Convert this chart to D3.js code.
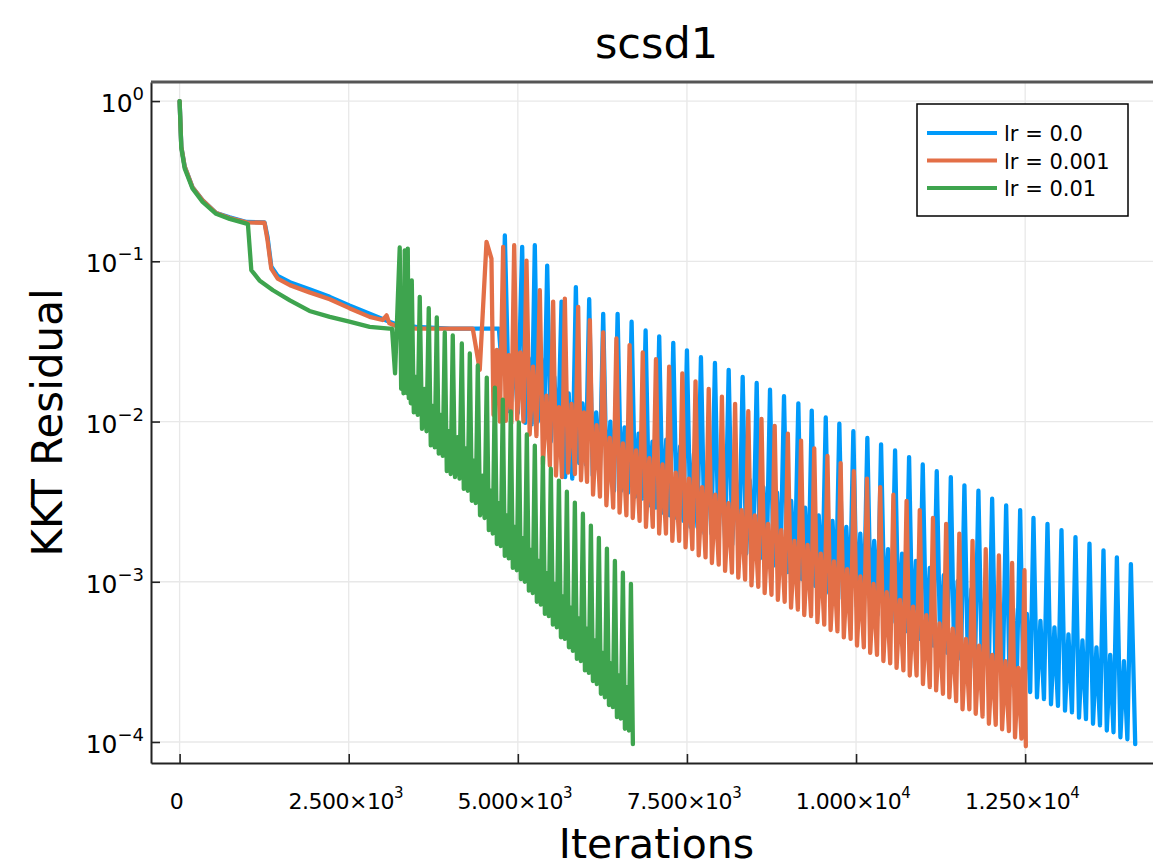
<!DOCTYPE html>
<html>
<head>
<meta charset="utf-8">
<script src="https://cdn.jsdelivr.net/npm/d3@7"></script>
<style>
  body { margin: 0; background: #fff; }
  text { font-family: "DejaVu Sans", sans-serif; fill: #000; }
</style>
</head>
<body>
<svg id="chart"></svg>
<script>
// tick values and labels
var xTicks = [0, 2500, 5000, 7500, 10000, 12500];
var xTickMantissa = ["0", "2.500", "5.000", "7.500", "1.000", "1.250"];
var xTickExponent = [null, "3", "3", "3", "4", "4"];
var yTicks = [1, 0.1, 0.01, 0.001, 0.0001];
var yTickExponent = ["0", "\u22121", "\u22122", "\u22123", "\u22124"];

var seriesNames = ["lr = 0.0", "lr = 0.001", "lr = 0.01"];
var seriesColors = ["#009AFA", "#E36F47", "#3EA44E"];

// [iteration, KKT residual]
var lr0 = [[0,1.0],[25,0.52],[75,0.39],[190,0.29],[340,0.24],[540,0.20],[740,0.188],[990,0.176],[1255,0.175],[1300,0.142],[1355,0.093],[1450,0.081],[1630,0.074],[1920,0.067],[2220,0.060],[2510,0.053],[2810,0.047],[3100,0.042],[3230,0.040],[3500,0.039],[4000,0.038],[4720,0.038],[4770,0.020],
[4808,0.145],[4870,0.0116],[4936,0.029],[5000,0.0113],
[5064,0.123],[5110,0.0098],[5157,0.025],[5205,0.0096],
[5251,0.126],[5295,0.0100],[5342,0.025],[5390,0.0098],
[5434,0.094],[5487,0.0075],[5540,0.019],[5593,0.0073],
[5646,0.056],[5699,0.0045],[5752,0.015],[5805,0.0044],
[5858,0.069],[5907,0.0055],[5956,0.013],[6006,0.0054],
[6055,0.058],[6107,0.0046],[6158,0.0114],[6210,0.0045],
[6262,0.047],[6315,0.0038],[6368,0.0100],[6422,0.0037],
[6475,0.047],[6527,0.0037],[6578,0.0092],[6630,0.0036],
[6682,0.042],[6734,0.0034],[6785,0.0084],[6837,0.0033],
[6889,0.037],[6939,0.0030],[6990,0.0075],[7040,0.0029],
[7090,0.034],[7142,0.0027],[7194,0.0077],[7246,0.0026],
[7298,0.031],[7349,0.0025],[7399,0.0070],[7449,0.0024],
[7500,0.0278],[7552,0.0022],[7604,0.0063],[7655,0.0022],
[7707,0.0252],[7759,0.0020],[7810,0.0057],[7862,0.0020],
[7914,0.0232],[7965,0.0019],[8015,0.0052],[8066,0.0018],
[8117,0.021],[8169,0.0017],[8220,0.0047],[8272,0.0016],
[8324,0.019],[8376,0.0015],[8428,0.0043],[8479,0.0015],
[8531,0.0174],[8580,0.0014],[8630,0.0039],[8679,0.00135],
[8728,0.0158],[8780,0.00126],[8832,0.0036],[8883,0.00123],
[8935,0.0144],[8988,0.00115],[9041,0.0032],[9094,0.00112],
[9147,0.013],[9196,0.00104],[9246,0.0029],[9296,0.00101],
[9345,0.0117],[9397,0.00094],[9448,0.0026],[9500,0.00091],
[9552,0.0106],[9602,0.00085],[9652,0.0024],[9703,0.00083],
[9753,0.0097],[9805,0.00078],[9856,0.0022],[9908,0.00076],
[9960,0.0087],[10012,0.00070],[10063,0.0020],[10115,0.00068],
[10167,0.0079],[10218,0.00063],[10268,0.0018],[10319,0.00062],
[10370,0.0072],[10422,0.00058],[10473,0.0016],[10525,0.00056],
[10577,0.0066],[10629,0.00050],[10680,0.0015],[10732,0.00049],
[10784,0.0060],[10834,0.00045],[10885,0.00135],[10935,0.00044],
[10986,0.0054],[11038,0.00041],[11090,0.00122],[11141,0.00040],
[11193,0.0049],[11245,0.00037],[11297,0.0011],[11349,0.00036],
[11401,0.0045],[11451,0.00034],[11502,0.00101],[11552,0.00033],
[11602,0.0040],[11654,0.00030],[11706,0.0009],[11757,0.00029],
[11809,0.0037],[11860,0.00028],[11910,0.00083],[11961,0.00027],
[12012,0.0033],[12064,0.00025],[12116,0.00074],[12167,0.00024],
[12219,0.0030],[12271,0.000225],[12322,0.00068],[12374,0.00022],
[12426,0.0028],[12475,0.00021],[12525,0.00063],[12574,0.000205],
[12623,0.0025],[12675,0.00019],[12726,0.00057],[12778,0.000185],
[12830,0.0023],[12882,0.000172],[12933,0.00052],[12985,0.000168],
[13037,0.0021],[13089,0.000157],[13140,0.00047],[13192,0.000153],
[13244,0.0019],[13296,0.000142],[13347,0.00043],[13399,0.000139],
[13451,0.00173],[13503,0.00013],[13554,0.00039],[13606,0.000127],
[13658,0.00157],[13707,0.000118],[13757,0.00035],[13806,0.000115],
[13856,0.00142],[13908,0.000107],[13960,0.00032],[14011,0.000104],
[14063,0.00129],[14127,0.000097]];

var lr001 = [[0,1.0],[25,0.52],[75,0.39],[190,0.29],[340,0.24],[540,0.20],[740,0.186],[990,0.175],[1255,0.174],[1300,0.135],[1355,0.090],[1450,0.078],[1630,0.071],[1920,0.064],[2220,0.058],[2510,0.051],[2810,0.045],[3000,0.043],[3060,0.046],[3100,0.041],[3230,0.039],[3500,0.038],[4000,0.038],[4334,0.038],[4437,0.021],
[4537,0.132],[4610,0.104],[4640,0.011],[4690,0.028],[4735,0.010],
[4783,0.123],[4822,0.0101],[4865,0.026],[4905,0.0098],
[4946,0.126],[4990,0.0103],[5037,0.027],[5083,0.010],
[5128,0.101],[5175,0.0083],[5226,0.022],[5275,0.0081],
[5325,0.066],[5372,0.0054],[5424,0.0145],[5474,0.0053],
[5522,0.056],[5564,0.0046],[5608,0.0123],[5653,0.0045],
[5695,0.0585],[5742,0.0048],[5794,0.0129],[5844,0.0047],
[5892,0.052],[5934,0.0043],[5978,0.0114],[6023,0.0042],
[6065,0.043],[6112,0.0035],[6164,0.0095],[6214,0.0034],
[6262,0.036],[6309,0.0030],[6359,0.0079],[6410,0.0029],
[6457,0.033],[6504,0.0027],[6554,0.0073],[6605,0.0026],
[6652,0.030],[6699,0.0025],[6749,0.0066],[6800,0.0024],
[6847,0.027],[6894,0.0022],[6944,0.0059],[6995,0.0022],
[7042,0.0245],[7089,0.0020],[7139,0.0054],[7190,0.0020],
[7237,0.022],[7284,0.0018],[7334,0.0048],[7385,0.0018],
[7432,0.020],[7479,0.00164],[7529,0.0044],[7580,0.0016],
[7627,0.0178],[7674,0.00146],[7724,0.0039],[7775,0.00142],
[7822,0.016],[7869,0.00131],[7919,0.0035],[7970,0.00128],
[8017,0.0143],[8064,0.00117],[8114,0.0031],[8165,0.00114],
[8212,0.0129],[8259,0.00106],[8309,0.0028],[8360,0.00103],
[8407,0.0116],[8454,0.00095],[8504,0.0026],[8555,0.00093],
[8602,0.0104],[8649,0.00085],[8699,0.0023],[8750,0.00083],
[8797,0.0094],[8844,0.00077],[8894,0.0021],[8945,0.00075],
[8992,0.0084],[9039,0.00069],[9089,0.0018],[9140,0.00067],
[9187,0.0076],[9234,0.00062],[9284,0.0017],[9335,0.00061],
[9382,0.0068],[9429,0.00056],[9479,0.0015],[9530,0.00054],
[9577,0.0061],[9624,0.00050],[9674,0.00134],[9725,0.00049],
[9772,0.0055],[9819,0.00045],[9869,0.0012],[9920,0.00044],
[9967,0.0049],[10014,0.00040],[10064,0.00108],[10115,0.00039],
[10162,0.0044],[10209,0.00036],[10259,0.00097],[10310,0.00035],
[10357,0.0039],[10404,0.00032],[10454,0.00086],[10505,0.00031],
[10552,0.0035],[10599,0.00029],[10649,0.00077],[10700,0.00028],
[10747,0.0032],[10794,0.00026],[10844,0.0007],[10895,0.00026],
[10942,0.0028],[10989,0.00023],[11039,0.00062],[11090,0.00022],
[11137,0.0025],[11184,0.00021],[11234,0.00055],[11285,0.00020],
[11332,0.0023],[11379,0.00019],[11429,0.00051],[11480,0.00018],
[11527,0.0020],[11574,0.00016],[11624,0.00044],[11675,0.00016],
[11722,0.0018],[11769,0.00015],[11819,0.00040],[11870,0.000144],
[11917,0.0016],[11964,0.00013],[12014,0.00035],[12065,0.000128],
[12112,0.00146],[12159,0.00012],[12209,0.00032],[12260,0.000117],
[12307,0.00131],[12350,0.000107],[12398,0.00029],[12445,0.000105],
[12490,0.00118],[12510,0.000094]];

var lr01 = [[0,1.0],[25,0.51],[75,0.38],[190,0.285],[340,0.235],[540,0.198],[740,0.184],[990,0.172],[1010,0.170],[1060,0.088],[1180,0.076],[1380,0.066],[1630,0.057],[1920,0.049],[2220,0.045],[2510,0.042],[2810,0.039],[3100,0.038],[3140,0.038],[3185,0.020],
[3254,0.122],[3275,0.016],[3291,0.030],[3310,0.015],
[3328,0.117],[3340,0.016],[3350,0.025],[3362,0.015],
[3373,0.120],[3388,0.014],[3402,0.024],[3418,0.013],
[3432,0.076],[3462,0.0114],[3491,0.019],[3520,0.011],
[3550,0.060],[3583,0.009],[3616,0.016],[3650,0.0087],
[3683,0.051],[3713,0.0071],[3742,0.0125],[3772,0.0069],
[3802,0.0447],[3831,0.0063],[3861,0.011],[3890,0.0061],
[3920,0.036],[3950,0.0049],[3979,0.0087],[4008,0.0047],
[4038,0.0345],[4071,0.0045],[4105,0.0080],[4138,0.0044],
[4172,0.0307],[4201,0.0038],[4231,0.0068],[4260,0.0037],
[4290,0.0266],[4320,0.0032],[4349,0.0057],[4378,0.0031],
[4408,0.0224],[4441,0.0026],[4475,0.0046],[4508,0.0025],
[4541,0.0188],[4571,0.0021],[4600,0.0037],[4630,0.0020],
[4660,0.0163],[4690,0.00172],[4719,0.0031],[4748,0.00167],
[4778,0.0137],[4807,0.00145],[4837,0.0026],[4866,0.0014],
[4896,0.01155],[4926,0.00122],[4955,0.0022],[4985,0.00118],
[5015,0.00986],[5044,0.00104],[5074,0.00187],[5103,0.0010],
[5133,0.0083],[5163,0.00088],[5192,0.00158],[5221,0.00085],
[5251,0.00708],[5281,0.00075],[5310,0.00135],[5340,0.00072],
[5370,0.00596],[5400,0.00063],[5429,0.00113],[5458,0.00061],
[5488,0.00508],[5518,0.00054],[5547,0.00097],[5577,0.00052],
[5607,0.00428],[5637,0.00045],[5666,0.00081],[5695,0.00044],
[5725,0.00365],[5755,0.00039],[5784,0.00069],[5814,0.00037],
[5843,0.00312],[5873,0.00033],[5902,0.00059],[5932,0.00032],
[5962,0.00266],[5992,0.00028],[6021,0.00051],[6050,0.00027],
[6080,0.00224],[6110,0.00024],[6139,0.00043],[6168,0.00023],
[6198,0.00188],[6228,0.00020],[6257,0.00036],[6287,0.00019],
[6317,0.00161],[6347,0.00017],[6376,0.00031],[6405,0.000165],
[6435,0.00135],[6465,0.000143],[6494,0.00026],[6523,0.00014],
[6553,0.00114],[6583,0.000121],[6612,0.00022],[6642,0.000118],
[6672,0.00097],[6701,0.000097]];

var allSeries = [lr0, lr001, lr01];

// canvas and plot frame
var width = 1153, height = 868;
var frame = { left: 151, top: 82, right: 1162, bottom: 763 };

var svg = d3.select("#chart")
    .attr("width", width)
    .attr("height", height);

svg.append("rect").attr("width", width).attr("height", height).attr("fill", "#fff");

var x = d3.scaleLinear().domain([-423, 14523]).range([frame.left, frame.right]);
var y = d3.scaleLog().domain([Math.pow(10, 0.119), Math.pow(10, -4.131)]).range([frame.top, frame.bottom]);

svg.append("clipPath").attr("id", "plotClip")
    .append("rect")
    .attr("x", frame.left).attr("y", frame.top)
    .attr("width", frame.right - frame.left).attr("height", frame.bottom - frame.top);

// grid lines
svg.append("g").selectAll("line").data(xTicks).enter().append("line")
    .attr("x1", function(d) { return x(d); }).attr("x2", function(d) { return x(d); })
    .attr("y1", frame.top).attr("y2", frame.bottom)
    .attr("stroke", "#e8e8e8").attr("stroke-width", 1.3);

svg.append("g").selectAll("line").data(yTicks).enter().append("line")
    .attr("x1", frame.left).attr("x2", frame.right)
    .attr("y1", function(d) { return y(d); }).attr("y2", function(d) { return y(d); })
    .attr("stroke", "#e8e8e8").attr("stroke-width", 1.3);

// series
var line = d3.line()
    .x(function(d) { return x(d[0]); })
    .y(function(d) { return y(d[1]); });

svg.append("g").attr("clip-path", "url(#plotClip)")
    .selectAll("path").data(allSeries).enter().append("path")
    .attr("d", line)
    .attr("fill", "none")
    .attr("stroke", function(d, i) { return seriesColors[i]; })
    .attr("stroke-width", 4.3)
    .attr("stroke-linejoin", "round")
    .attr("stroke-linecap", "round");

// axes (ticks point into the plot, labels drawn below)
var xAxis = svg.append("g")
    .attr("transform", "translate(0," + frame.bottom + ")")
    .call(d3.axisBottom(x).tickValues(xTicks).tickSizeInner(-9).tickSizeOuter(0).tickFormat(""));

var yAxis = svg.append("g")
    .attr("transform", "translate(" + frame.left + ",0)")
    .call(d3.axisLeft(y).tickValues(yTicks).tickSizeInner(-9).tickSizeOuter(0).tickFormat(""));

[xAxis, yAxis].forEach(function(g) {
    g.select(".domain").attr("stroke", "#222").attr("stroke-width", 2);
    g.selectAll(".tick line").attr("stroke", "#222").attr("stroke-width", 1.6);
});

// top border of the frame
svg.append("line")
    .attr("x1", frame.left).attr("x2", frame.right)
    .attr("y1", frame.top).attr("y2", frame.top)
    .attr("stroke", "#555").attr("stroke-width", 3);

// x tick labels like 2.500×10^3
xTicks.forEach(function(t, i) {
    var label = svg.append("text")
        .attr("x", x(t) - 3)
        .attr("y", frame.bottom + 46)
        .attr("text-anchor", "middle")
        .style("font-size", "22px")
        .style("letter-spacing", "-0.5px");
    if (xTickExponent[i] === null) {
        label.text(xTickMantissa[i]);
    } else {
        label.append("tspan").text(xTickMantissa[i] + "\u00d710");
        label.append("tspan").attr("dy", -11).style("font-size", "15px").text(xTickExponent[i]);
    }
});

// y tick labels like 10^-1
yTicks.forEach(function(t, i) {
    var label = svg.append("text")
        .attr("x", frame.left - 7)
        .attr("y", y(t) + 11)
        .attr("text-anchor", "end")
        .style("font-size", "25px");
    label.append("tspan").text("10");
    label.append("tspan").attr("dy", -12).style("font-size", "18px").text(yTickExponent[i]);
});

// titles
svg.append("text")
    .attr("x", (frame.left + frame.right) / 2)
    .attr("y", 58)
    .attr("text-anchor", "middle")
    .style("font-size", "43px")
    .text("scsd1");

svg.append("text")
    .attr("x", (frame.left + frame.right) / 2)
    .attr("y", 858)
    .attr("text-anchor", "middle")
    .style("font-size", "41px")
    .text("Iterations");

svg.append("text")
    .attr("transform", "translate(62," + (frame.top + frame.bottom) / 2 + ") rotate(-90)")
    .attr("text-anchor", "middle")
    .style("font-size", "42px")
    .text("KKT Residual");

// legend
var legend = svg.append("g");
legend.append("rect")
    .attr("x", 917).attr("y", 104)
    .attr("width", 211).attr("height", 112)
    .attr("fill", "#fff")
    .attr("stroke", "#000").attr("stroke-width", 1.5);

seriesNames.forEach(function(name, i) {
    var ly = 133 + i * 27.5;
    legend.append("line")
        .attr("x1", 927).attr("x2", 997)
        .attr("y1", ly).attr("y2", ly)
        .attr("stroke", seriesColors[i]).attr("stroke-width", 3.8);
    legend.append("text")
        .attr("x", 1004).attr("y", ly + 8)
        .style("font-size", "21px")
        .text(name);
});
</script>
</body>
</html>
